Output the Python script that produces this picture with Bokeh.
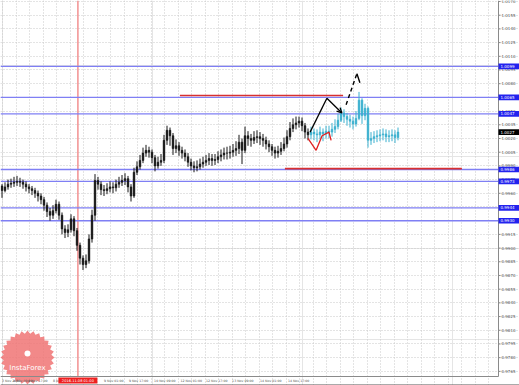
import numpy as np
from bokeh.plotting import figure
from bokeh.models import Range1d, FixedTicker, Grid, Arrow, OpenHead
from bokeh.core.properties import value
from bokeh.embed import file_html
from bokeh.resources import INLINE

# ---------------- data ----------------
first_open = 0.9968
hist_close = [0.9963, 0.9967, 0.9970, 0.9971, 0.9972, 0.9973, 0.9972, 0.9970, 0.9967, 0.9965,
              0.9963, 0.9960, 0.9957, 0.9953, 0.9947, 0.9940, 0.9936, 0.9941, 0.9948, 0.9936,
              0.9921, 0.9917, 0.9920, 0.9932, 0.9919, 0.9903, 0.9889, 0.9882, 0.9886, 0.9910,
              0.9936, 0.9974, 0.9970, 0.9964, 0.9963, 0.9965, 0.9967, 0.9966, 0.9970, 0.9972,
              0.9974, 0.9976, 0.9967, 0.9957, 0.9983, 0.9989, 0.9996, 1.0004, 1.0007, 1.0005,
              0.9999, 0.9990, 0.9994, 0.9996, 1.0018, 1.0029, 1.0023, 1.0009, 1.0012, 1.0007,
              1.0004, 1.0000, 0.9994, 0.9990, 0.9988, 0.9989, 0.9992, 0.9994, 0.9996, 0.9998,
              0.9996, 0.9997, 1.0000, 1.0002, 1.0004, 1.0004, 1.0005, 1.0007, 1.0009, 1.0016,
              1.0007, 1.0023, 1.0020, 1.0018, 1.0021, 1.0022, 1.0020, 1.0018, 1.0014, 1.0011,
              1.0007, 1.0004, 1.0006, 1.0009, 1.0014, 1.0022, 1.0031, 1.0035, 1.0037, 1.0039,
              1.0034, 1.0027, 1.0024]
hist_high = [0.9970, 0.9972, 0.9975, 0.9976, 0.9978, 0.9979, 0.9977, 0.9975, 0.9973, 0.9970,
             0.9968, 0.9966, 0.9963, 0.9960, 0.9956, 0.9950, 0.9944, 0.9947, 0.9953, 0.9951,
             0.9939, 0.9925, 0.9926, 0.9937, 0.9935, 0.9922, 0.9906, 0.9892, 0.9893, 0.9915,
             0.9942, 0.9981, 0.9978, 0.9973, 0.9969, 0.9971, 0.9973, 0.9972, 0.9975, 0.9978,
             0.9980, 0.9982, 0.9979, 0.9970, 0.9988, 0.9995, 1.0002, 1.0010, 1.0013, 1.0011,
             1.0008, 1.0002, 1.0000, 1.0003, 1.0024, 1.0034, 1.0032, 1.0026, 1.0019, 1.0016,
             1.0011, 1.0008, 1.0004, 0.9998, 0.9995, 0.9996, 0.9998, 1.0000, 1.0002, 1.0004,
             1.0003, 1.0003, 1.0006, 1.0008, 1.0010, 1.0011, 1.0012, 1.0014, 1.0017, 1.0024,
             1.0020, 1.0033, 1.0028, 1.0025, 1.0028, 1.0029, 1.0027, 1.0025, 1.0022, 1.0018,
             1.0014, 1.0011, 1.0012, 1.0016, 1.0021, 1.0029, 1.0038, 1.0042, 1.0044, 1.0044,
             1.0043, 1.0037, 1.0031]
hist_low = [0.9955, 0.9961, 0.9964, 0.9966, 0.9967, 0.9968, 0.9967, 0.9965, 0.9962, 0.9960,
            0.9958, 0.9955, 0.9951, 0.9948, 0.9941, 0.9934, 0.9930, 0.9932, 0.9938, 0.9931,
            0.9915, 0.9911, 0.9912, 0.9917, 0.9913, 0.9897, 0.9882, 0.9876, 0.9878, 0.9883,
            0.9906, 0.9930, 0.9964, 0.9958, 0.9957, 0.9959, 0.9961, 0.9960, 0.9962, 0.9966,
            0.9968, 0.9969, 0.9961, 0.9951, 0.9955, 0.9980, 0.9986, 0.9993, 1.0000, 0.9999,
            0.9993, 0.9984, 0.9987, 0.9990, 0.9993, 1.0013, 1.0012, 1.0002, 1.0004, 1.0001,
            0.9998, 0.9995, 0.9989, 0.9985, 0.9983, 0.9984, 0.9986, 0.9988, 0.9990, 0.9991,
            0.9990, 0.9991, 0.9993, 0.9995, 0.9997, 0.9997, 0.9998, 1.0000, 1.0001, 1.0003,
            0.9992, 1.0004, 1.0012, 1.0011, 1.0014, 1.0015, 1.0013, 1.0011, 1.0008, 1.0005,
            1.0001, 0.9998, 0.9999, 1.0002, 1.0006, 1.0010, 1.0018, 1.0027, 1.0030, 1.0032,
            1.0028, 1.0020, 1.0018]

new_close = [1.0027, 1.0025, 1.0024, 1.0027, 1.0025, 1.0028, 1.0027, 1.0030, 1.0033, 1.0040,
             1.0048, 1.0044, 1.0041, 1.0039, 1.0036, 1.0042, 1.0062, 1.0045, 1.0053, 1.0018,
             1.0020, 1.0022, 1.0023, 1.0024, 1.0025, 1.0022, 1.0023, 1.0024, 1.0021, 1.0027]
new_high = [1.0033, 1.0031, 1.0030, 1.0033, 1.0031, 1.0034, 1.0034, 1.0037, 1.0041, 1.0047,
            1.0054, 1.0052, 1.0048, 1.0046, 1.0044, 1.0050, 1.0071, 1.0064, 1.0058, 1.0055,
            1.0027, 1.0028, 1.0029, 1.0030, 1.0031, 1.0030, 1.0029, 1.0030, 1.0029, 1.0032]
new_low = [1.0019, 1.0018, 1.0016, 1.0019, 1.0017, 1.0020, 1.0020, 1.0022, 1.0026, 1.0030,
           1.0038, 1.0037, 1.0034, 1.0032, 1.0030, 1.0033, 1.0040, 1.0036, 1.0040, 1.0010,
           1.0013, 1.0015, 1.0016, 1.0017, 1.0018, 1.0016, 1.0016, 1.0017, 1.0015, 1.0018]

blue_levels = [1.0099, 1.0065, 1.0047, 0.9986, 0.9973, 0.9944, 0.9930]
blue_labels = ["1.0099", "1.0065", "1.0047", "0.9986", "0.9973", "0.9944", "0.9930"]
last_price_label = "1.0027"

red_level_top = 1.0067
red_top_x = [59.3, 113.7]
red_level_bottom = 0.9987
red_bottom_x = [94.3, 153.3]

mark_red_x = [102.0, 104.7, 106.7, 109.0, 109.7]
mark_red_y = [1.0020, 1.0007, 1.0023, 1.0027, 1.0018]
mark_black_x = [102.7, 108.3, 113.3]
mark_black_y = [1.0027, 1.0064, 1.0048]
mark_dash_x = [114.7, 118.3]
mark_dash_y = [1.0057, 1.0091]
mark_tip_x = [118.3, 119.3]
mark_tip_y = [1.0091, 1.0081]

event_x = 25.3
event_label = "2016.11.08 01:00"

ytick_values = [0.9765, 0.9780, 0.9795, 0.9810, 0.9825, 0.9840, 0.9855, 0.9870, 0.9885, 0.9900,
                0.9915, 0.9930, 0.9945, 0.9960, 0.9975, 0.9990, 1.0005, 1.0020, 1.0035, 1.0050,
                1.0065, 1.0080, 1.0095, 1.0110, 1.0125, 1.0140, 1.0155, 1.0170]
xtick_pos = [0.0, 3.7, 8.7, 17.0, 34.0, 42.3, 50.7, 59.5, 68.0, 76.7, 86.0, 95.3]
xtick_labels = ["3 Nov 2016", "4 Nov 09:00", "4 Nov 17:00", "8 Nov 01:00", "9 Nov 01:00",
                "9 Nov 17:00", "10 Nov 09:00", "12 Nov 01:00", "12 Nov 17:00", "13 Nov 09:00",
                "14 Nov 01:00", "14 Nov 17:00"]

# ---------------- frame geometry (3 px per bar, 0.0001095 per px) ----------------
PX_PER_BAR = 3.0
PRICE_PER_PX = 0.0001095
X0 = -0.5
X1 = X0 + 519 / PX_PER_BAR
Y1 = 1.01711
Y0 = Y1 - 385 * PRICE_PER_PX
to_x = lambda v: X0 + v / PX_PER_BAR
to_y = lambda v: Y1 - v * PRICE_PER_PX
AXIS_X = to_x(498)      # right price scale line
AXIS_Y = to_y(376)      # time scale line

p = figure(width=519, height=385, output_backend="svg", toolbar_location=None,
           x_range=Range1d(X0, X1), y_range=Range1d(Y0, Y1),
           x_axis_location=None, y_axis_location=None,
           min_border_left=0, min_border_top=0, min_border_right=0, min_border_bottom=0)
p.outline_line_color = None
p.background_fill_color = "white"
p.border_fill_color = "white"

FONT = "DejaVu Sans"

# grid
vgrid = Grid(dimension=0, ticker=FixedTicker(ticks=[to_x(2 + 13.5 * k) for k in range(37)]),
             bounds=(AXIS_Y, Y1), grid_line_color="#c8c8c8", grid_line_dash="1 2")
hgrid = Grid(dimension=1, ticker=FixedTicker(ticks=ytick_values),
             bounds=(X0, AXIS_X), grid_line_color="#c8c8c8", grid_line_dash="1 2")
p.add_layout(vgrid)
p.add_layout(hgrid)

# watermark logo (decorative)
cx, cy, r_out, r_in = 27.0, 357.0, 27.0, 24.0
ang = np.linspace(0, 2 * np.pi, 57)[:-1]
rad = np.where(np.arange(56) % 2 == 0, r_out, r_in)
p.patch([to_x(v) for v in cx + rad * np.cos(ang)], [to_y(v) for v in cy + rad * np.sin(ang)],
        fill_color="#f07474", fill_alpha=0.85, line_color=None)
p.text(x=[to_x(27)], y=[to_y(367)], text=["InstaForex"], text_color="white",
       text_font=value(FONT), text_font_size=value("7px"), text_align="center",
       text_baseline="middle")
p.scatter([to_x(27)], [to_y(353)], marker="circle", size=6, fill_color="white", line_color=None)

# event vertical line
p.line([event_x, event_x], [AXIS_Y, Y1], line_color="#f29090", line_width=1.5)

# blue levels
for lv in blue_levels:
    p.line([X0, AXIS_X], [lv, lv], line_color="#7f7ff4", line_width=1.4)

# red levels
p.line(red_top_x, [red_level_top, red_level_top], line_color="#d83030", line_width=1.6)
p.line(red_bottom_x, [red_level_bottom, red_level_bottom], line_color="#d83030", line_width=1.6)


def draw_candles(start, close, high, low, open_first, color):
    xs = [start + i for i in range(len(close))]
    opens = [open_first] + close[:-1]
    p.segment(x0=xs, y0=low, x1=xs, y1=high, line_color=color, line_width=1)
    p.vbar(x=xs, width=0.55, top=close, bottom=opens, fill_color=color, line_color=color,
           line_width=0.6)


draw_candles(0, hist_close, hist_high, hist_low, first_open, "#161616")
draw_candles(len(hist_close), new_close, new_high, new_low, hist_close[-1], "#3ab0cf")

# analyst markup
p.line(mark_red_x, mark_red_y, line_color="#e02020", line_width=1.3)
p.line(mark_black_x[:2], mark_black_y[:2], line_color="black", line_width=1.3)
p.add_layout(Arrow(end=OpenHead(size=5, line_color="black", line_width=1.3),
                   line_color="black", line_width=1.3,
                   x_start=mark_black_x[1], y_start=mark_black_y[1],
                   x_end=mark_black_x[2], y_end=mark_black_y[2]))
p.line(mark_dash_x, mark_dash_y, line_color="black", line_width=1.4, line_dash="4 3")
p.line(mark_tip_x, mark_tip_y, line_color="black", line_width=1.4)

# price scale (right) and time scale (bottom)
p.line([AXIS_X, AXIS_X], [AXIS_Y, Y1], line_color="#8a8a8a", line_width=1)
p.line([X0, AXIS_X], [AXIS_Y, AXIS_Y], line_color="#8a8a8a", line_width=1)
p.line([X0, X1], [to_y(384.5), to_y(384.5)], line_color="#555555", line_width=1)
p.segment(x0=[AXIS_X] * len(ytick_values), y0=ytick_values,
          x1=[AXIS_X + 0.7] * len(ytick_values), y1=ytick_values,
          line_color="#8a8a8a", line_width=1)
p.text(x=[to_x(501)] * len(ytick_values), y=ytick_values,
       text=[f"{v:.4f}" for v in ytick_values], text_color="#555555",
       text_font=value(FONT), text_font_size=value("4px"), text_align="left",
       text_baseline="middle")
p.text(x=xtick_pos, y=[to_y(380)] * len(xtick_pos), text=xtick_labels, text_color="#555555",
       text_font=value(FONT), text_font_size=value("3.2px"), text_align="left",
       text_baseline="middle")

# badges
bh = 2.8 * PRICE_PER_PX
p.quad(left=[AXIS_X] * len(blue_levels), right=[to_x(519)] * len(blue_levels),
       bottom=[lv - bh for lv in blue_levels], top=[lv + bh for lv in blue_levels],
       fill_color="#2323ee", line_color=None)
p.text(x=[to_x(500)] * len(blue_levels), y=blue_levels, text=blue_labels, text_color="white",
       text_font=value(FONT), text_font_size=value("4px"), text_align="left",
       text_baseline="middle")
p.quad(left=[AXIS_X], right=[to_x(519)], bottom=[new_close[-1] - bh],
       top=[new_close[-1] + bh], fill_color="#000000", line_color=None)
p.text(x=[to_x(500)], y=[new_close[-1]], text=[last_price_label], text_color="white",
       text_font=value(FONT), text_font_size=value("4px"), text_align="left",
       text_baseline="middle")
p.quad(left=[event_x - 6.5], right=[event_x + 6.5], bottom=[to_y(383)], top=[to_y(377)],
       fill_color="#ee2020", line_color=None)
p.text(x=[event_x], y=[to_y(380)], text=[event_label], text_color="white",
       text_font=value(FONT), text_font_size=value("3.6px"), text_align="center",
       text_baseline="middle")

open("out.html", "w").write(file_html(p, INLINE))
